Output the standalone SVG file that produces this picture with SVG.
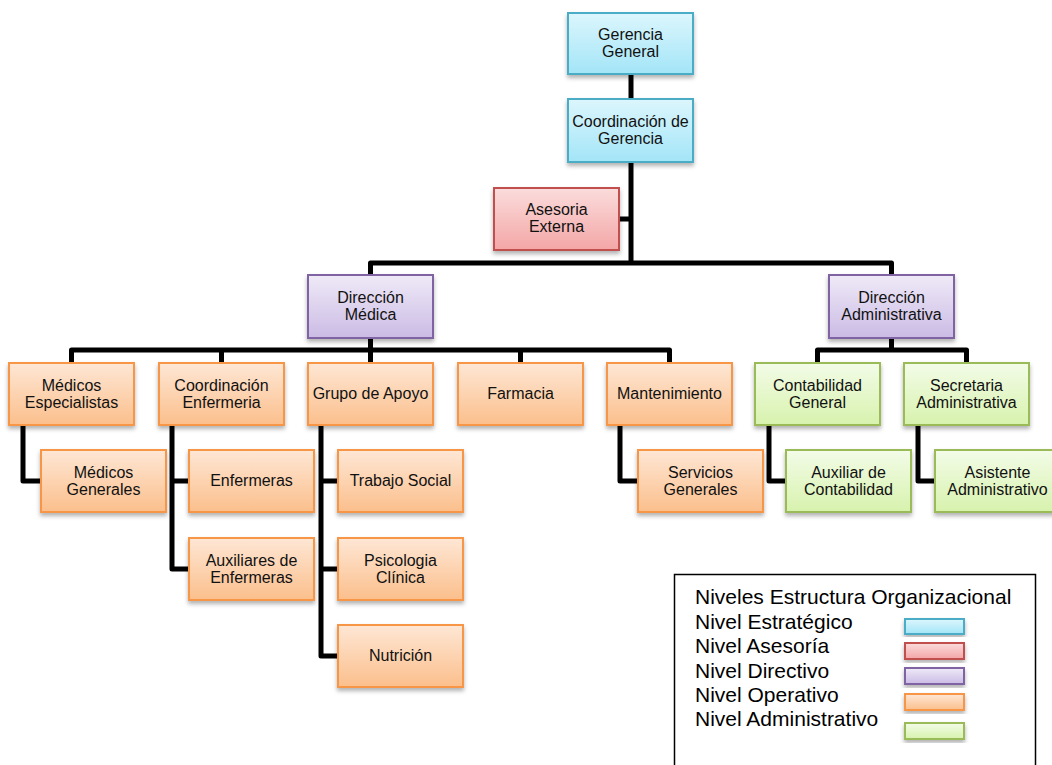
<svg xmlns="http://www.w3.org/2000/svg" width="1052" height="765" viewBox="0 0 1052 765">
<defs>
<linearGradient id="gBlue" x1="0" y1="0" x2="0" y2="1"><stop offset="0" stop-color="#dcf6fd"/><stop offset="1" stop-color="#a3e5f7"/></linearGradient>
<linearGradient id="gRed" x1="0" y1="0" x2="0" y2="1"><stop offset="0" stop-color="#fbdcdc"/><stop offset="1" stop-color="#f4a6a6"/></linearGradient>
<linearGradient id="gPurple" x1="0" y1="0" x2="0" y2="1"><stop offset="0" stop-color="#efeaf7"/><stop offset="1" stop-color="#cbbbe5"/></linearGradient>
<linearGradient id="gOrange" x1="0" y1="0" x2="0" y2="1"><stop offset="0" stop-color="#fee7d5"/><stop offset="1" stop-color="#fbbf8c"/></linearGradient>
<linearGradient id="gGreen" x1="0" y1="0" x2="0" y2="1"><stop offset="0" stop-color="#f3fce8"/><stop offset="1" stop-color="#d7f2ad"/></linearGradient>
<filter id="sh" x="-10%" y="-10%" width="120%" height="130%"><feDropShadow dx="0" dy="3" stdDeviation="2" flood-color="#000" flood-opacity="0.3"/></filter>
</defs>
<style>
.box{stroke-width:2;filter:url(#sh)}
.blue{fill:url(#gBlue);stroke:#4bacc6}
.red{fill:url(#gRed);stroke:#c0504d}
.purple{fill:url(#gPurple);stroke:#8064a2}
.orange{fill:url(#gOrange);stroke:#f79646}
.green{fill:url(#gGreen);stroke:#9bbb59}
.t{font-family:"Liberation Sans",Arial,sans-serif;font-size:16px;fill:#111;text-anchor:middle}
.lg{font-family:"Liberation Sans",Arial,sans-serif;font-size:21px;fill:#000}
.conn{fill:none;stroke:#000;stroke-width:5;stroke-linejoin:round}
</style>
<rect width="1052" height="765" fill="#fff"/>
<g id="connectors" class="conn">
<path d="M631,74 V99"/>
<path d="M631,162 V263"/>
<path d="M619,219 H631"/>
<path d="M370.5,275 V263 H891.5 V275"/>
<path d="M370.5,338 V350"/>
<path d="M71.5,363 V350 H669.5 V363"/>
<path d="M221.5,350 V363"/>
<path d="M370.5,350 V363"/>
<path d="M520.5,350 V363"/>
<path d="M891.5,338 V350"/>
<path d="M817.5,363 V350 H966.5 V363"/>
<path d="M23,425 V481 H41"/>
<path d="M172,425 V569 H189"/>
<path d="M172,481 H189"/>
<path d="M321,425 V656 H338"/>
<path d="M321,481 H338"/>
<path d="M321,569 H338"/>
<path d="M620,425 V481 H638"/>
<path d="M769,425 V481 H786"/>
<path d="M918,425 V481 H935"/>
</g>
<g id="gerencia"><rect class="box blue" x="568" y="13" width="125" height="61"/><text class="t" x="630.5" y="40">Gerencia</text><text class="t" x="630.5" y="57">General</text></g>
<g id="coordinacion-gerencia"><rect class="box blue" x="568" y="99" width="125" height="63"/><text class="t" x="630.5" y="127">Coordinación de</text><text class="t" x="630.5" y="144">Gerencia</text></g>
<g id="asesoria"><rect class="box red" x="494" y="188" width="125" height="62"/><text class="t" x="556.5" y="215">Asesoria</text><text class="t" x="556.5" y="232">Externa</text></g>
<g id="direccion-medica"><rect class="box purple" x="308" y="275" width="125" height="63"/><text class="t" x="370.5" y="303">Dirección</text><text class="t" x="370.5" y="320">Médica</text></g>
<g id="direccion-administrativa"><rect class="box purple" x="829" y="275" width="125" height="63"/><text class="t" x="891.5" y="303">Dirección</text><text class="t" x="891.5" y="320">Administrativa</text></g>
<g id="medicos-especialistas"><rect class="box orange" x="9" y="363" width="125" height="62"/><text class="t" x="71.5" y="391">Médicos</text><text class="t" x="71.5" y="408">Especialistas</text></g>
<g id="coordinacion-enfermeria"><rect class="box orange" x="159" y="363" width="125" height="62"/><text class="t" x="221.5" y="391">Coordinación</text><text class="t" x="221.5" y="408">Enfermeria</text></g>
<g id="grupo-apoyo"><rect class="box orange" x="308" y="363" width="125" height="62"/><text class="t" x="370.5" y="399">Grupo de Apoyo</text></g>
<g id="farmacia"><rect class="box orange" x="458" y="363" width="125" height="62"/><text class="t" x="520.5" y="399">Farmacia</text></g>
<g id="mantenimiento"><rect class="box orange" x="607" y="363" width="125" height="62"/><text class="t" x="669.5" y="399">Mantenimiento</text></g>
<g id="contabilidad-general"><rect class="box green" x="755" y="363" width="125" height="62"/><text class="t" x="817.5" y="391">Contabilidad</text><text class="t" x="817.5" y="408">General</text></g>
<g id="secretaria-administrativa"><rect class="box green" x="904" y="363" width="125" height="62"/><text class="t" x="966.5" y="391">Secretaria</text><text class="t" x="966.5" y="408">Administrativa</text></g>
<g id="medicos-generales"><rect class="box orange" x="41" y="450" width="125" height="62"/><text class="t" x="103.5" y="478">Médicos</text><text class="t" x="103.5" y="495">Generales</text></g>
<g id="enfermeras"><rect class="box orange" x="189" y="450" width="125" height="62"/><text class="t" x="251.5" y="486">Enfermeras</text></g>
<g id="trabajo-social"><rect class="box orange" x="338" y="450" width="125" height="62"/><text class="t" x="400.5" y="486">Trabajo Social</text></g>
<g id="servicios-generales"><rect class="box orange" x="638" y="450" width="125" height="62"/><text class="t" x="700.5" y="478">Servicios</text><text class="t" x="700.5" y="495">Generales</text></g>
<g id="auxiliar-contabilidad"><rect class="box green" x="786" y="450" width="125" height="62"/><text class="t" x="848.5" y="478">Auxiliar de</text><text class="t" x="848.5" y="495">Contabilidad</text></g>
<g id="asistente-administrativo"><rect class="box green" x="935" y="450" width="125" height="62"/><text class="t" x="997.5" y="478">Asistente</text><text class="t" x="997.5" y="495">Administrativo</text></g>
<g id="auxiliares-enfermeras"><rect class="box orange" x="189" y="538" width="125" height="62"/><text class="t" x="251.5" y="566">Auxiliares de</text><text class="t" x="251.5" y="583">Enfermeras</text></g>
<g id="psicologia"><rect class="box orange" x="338" y="538" width="125" height="62"/><text class="t" x="400.5" y="566">Psicologia</text><text class="t" x="400.5" y="583">Clínica</text></g>
<g id="nutricion"><rect class="box orange" x="338" y="625" width="125" height="62"/><text class="t" x="400.5" y="661">Nutrición</text></g>
<g id="legend">
<rect x="674.5" y="574.5" width="361" height="200" fill="#fff" stroke="#000" stroke-width="1.5"/>
<text class="lg" x="695" y="604">Niveles Estructura Organizacional</text>
<text class="lg" x="695" y="629">Nivel Estratégico</text>
<text class="lg" x="695" y="653">Nivel Asesoría</text>
<text class="lg" x="695" y="678">Nivel Directivo</text>
<text class="lg" x="695" y="702">Nivel Operativo</text>
<text class="lg" x="695" y="726">Nivel Administrativo</text>
<rect class="box blue" x="905" y="619" width="59" height="15"/>
<rect class="box red" x="905" y="643" width="59" height="16"/>
<rect class="box purple" x="905" y="668" width="59" height="16"/>
<rect class="box orange" x="905" y="694" width="59" height="16"/>
<rect class="box green" x="905" y="723" width="59" height="16"/>
</g>
</svg>
